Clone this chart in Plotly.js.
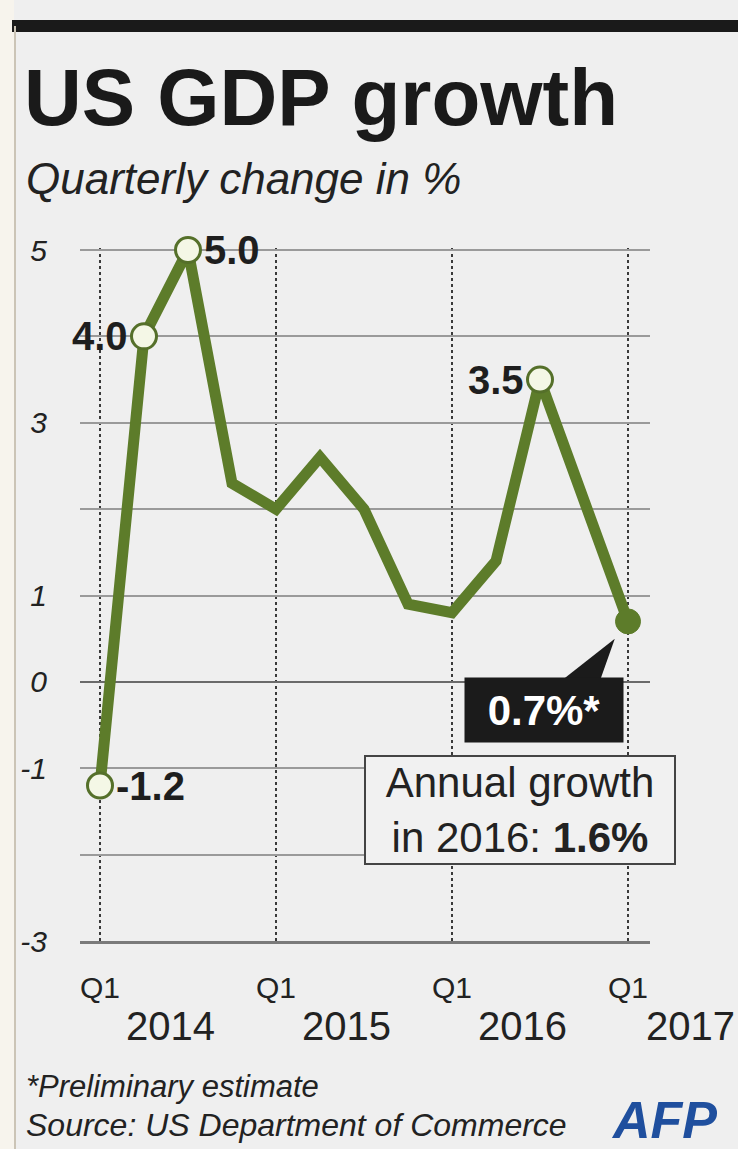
<!DOCTYPE html>
<html>
<head>
<meta charset="utf-8">
<script src="https://cdn.plot.ly/plotly-3.0.1.min.js"></script>
<style>html,body{margin:0;padding:0;background:#efefef;}#chart{width:738px;height:1149px;}</style>
</head>
<body>
<div id="chart"></div>
<script>
// ---- data ----
const quarters = ['Q1 2014','Q2 2014','Q3 2014','Q4 2014','Q1 2015','Q2 2015','Q3 2015','Q4 2015','Q1 2016','Q2 2016','Q3 2016','Q4 2016','Q1 2017'];
const growth = [-1.2, 4.0, 5.0, 2.3, 2.0, 2.6, 2.0, 0.9, 0.8, 1.4, 3.5, 2.1, 0.7];
const labelledIdx = [0, 1, 2, 10];
const labelSide = ['right', 'left', 'right', 'left'];
const xTickIdx = [0, 4, 8, 12];
const xTickText = ['Q1', 'Q1', 'Q1', 'Q1'];
const years = ['2014', '2015', '2016', '2017'];
const yTickVals = [-3, -2, -1, 0, 1, 2, 3, 4, 5];
const yTickText = ['-3', '', '-1', '0', '1', '', '3', '', '5'];
const latestLabel = '0.7%*';
const annualText = 'Annual growth<br>in 2016: <b>1.6%</b>';

// ---- geometry helpers (pixel -> paper) ----
const W = 738, H = 1149;
const L = 80, R = 650, T = 248, B = 941;
const UNIT = (B - 250) / 8;            // px per 1 % point
const YMAX = 5 + (250 - T) / UNIT;
const XMIN = -20 / 44, XMAX = 12.5;
const px = p => (p - L) / (R - L);
const py = p => 1 - (p - T) / (B - T);
const xToPaper = v => (v - XMIN) / (XMAX - XMIN);

const xIdx = quarters.map((q, i) => i);
const GREEN = '#5d7c2a';
const FONT = 'Liberation Sans, Arial, sans-serif';

const lineTrace = {
  x: xIdx, y: growth, mode: 'lines', type: 'scatter',
  line: {color: GREEN, width: 11, shape: 'linear'},
  hoverinfo: 'skip', cliponaxis: false
};
const openMarkers = {
  x: labelledIdx.map(i => xIdx[i]), y: labelledIdx.map(i => growth[i]),
  mode: 'markers', type: 'scatter', cliponaxis: false, hoverinfo: 'skip',
  marker: {size: 25, color: '#f4f7e6', line: {color: '#55702a', width: 3}}
};
const last = growth.length - 1;
const lastMarker = {
  x: [xIdx[last]], y: [growth[last]], mode: 'markers', type: 'scatter',
  cliponaxis: false, hoverinfo: 'skip',
  marker: {size: 25, color: GREEN, line: {color: GREEN, width: 1}}
};

const annotations = [];
// point labels
labelledIdx.forEach((i, k) => {
  annotations.push({
    x: xIdx[i], y: growth[i], xref: 'x', yref: 'y', showarrow: false,
    text: '<b>' + growth[i].toFixed(1) + '</b>',
    xanchor: labelSide[k] === 'right' ? 'left' : 'right',
    xshift: labelSide[k] === 'right' ? 14 : -14,
    font: {family: FONT, size: 40, color: '#1e1e1e'}
  });
});
// years (last one kept inside the right edge)
xTickIdx.forEach((xi, k) => {
  const isLast = k === xTickIdx.length - 1;
  annotations.push({
    x: isLast ? px(737) : xToPaper(xi + 1.6), y: py(1026), xref: 'paper', yref: 'paper', showarrow: false,
    text: years[k], xanchor: isLast ? 'right' : 'center', yanchor: 'middle',
    font: {family: FONT, size: 40, color: '#222'}
  });
});
// subtitle
annotations.push({
  x: px(24), y: py(178), xref: 'paper', yref: 'paper', showarrow: false,
  text: 'Quarterly change in %', xanchor: 'left', yanchor: 'middle',
  font: {family: FONT, size: 44, color: '#222', style: 'italic'}
});
// latest callout
annotations.push({
  x: xIdx[last] - 1.91, y: growth[last] - 1.03, xref: 'x', yref: 'y', showarrow: false,
  text: '<b>' + latestLabel + '</b>', bgcolor: '#1b1b1b', borderpad: 4,
  width: 150, height: 56, align: 'center', valign: 'middle',
  font: {family: FONT, size: 42, color: '#ffffff'}
});
// annual box
annotations.push({
  x: xIdx[last] - 2.45, y: growth[last] - 2.18, xref: 'x', yref: 'y', showarrow: false,
  text: annualText, bgcolor: '#f1f1f1', bordercolor: '#444', borderwidth: 2, borderpad: 3,
  width: 302, height: 100, align: 'center', valign: 'middle',
  font: {family: FONT, size: 42, color: '#222'}
});
// footer
annotations.push({
  x: px(24), y: py(1086), xref: 'paper', yref: 'paper', showarrow: false,
  text: '*Preliminary estimate', xanchor: 'left', yanchor: 'middle',
  font: {family: FONT, size: 31, color: '#222', style: 'italic'}
});
annotations.push({
  x: px(24), y: py(1125), xref: 'paper', yref: 'paper', showarrow: false,
  text: 'Source: US Department of Commerce', xanchor: 'left', yanchor: 'middle',
  font: {family: FONT, size: 32, color: '#222', style: 'italic'}
});
annotations.push({
  x: px(664), y: py(1120), xref: 'paper', yref: 'paper', showarrow: false,
  text: '<b>AFP</b>', xanchor: 'center', yanchor: 'middle',
  font: {family: FONT, size: 52, color: '#1f4f9e', style: 'italic'}
});

const lx = xIdx[last], ly = growth[last];
const shapes = [
  {type: 'rect', xref: 'paper', yref: 'paper', x0: px(12), x1: px(740), y0: py(20), y1: py(32),
   fillcolor: '#1a1a1a', line: {width: 0}, layer: 'above'},
  {type: 'rect', xref: 'paper', yref: 'paper', x0: px(-2), x1: px(14), y0: py(0), y1: py(1150),
   fillcolor: '#f7f4ed', line: {width: 0}, layer: 'below'},
  {type: 'line', xref: 'paper', yref: 'paper', x0: px(15), x1: px(15), y0: py(26), y1: py(1150),
   line: {color: '#cbc4b6', width: 2}},
  {type: 'path', xref: 'x', yref: 'y', fillcolor: '#1b1b1b', line: {width: 0},
   path: 'M ' + (lx - 0.3) + ',' + (ly - 0.2) + ' L ' + (lx - 0.62) + ',' + (ly - 0.66) +
         ' L ' + (lx - 1.45) + ',' + (ly - 0.66) + ' Z'}
];

const layout = {
  width: W, height: H,
  paper_bgcolor: '#efefef', plot_bgcolor: 'rgba(0,0,0,0)',
  margin: {l: L, r: W - R, t: T, b: H - B, pad: 0},
  showlegend: false,
  title: {text: '<b>US GDP growth</b>', xref: 'container', yref: 'container',
          x: 24 / W, xanchor: 'left', y: 1 - 97 / H, yanchor: 'middle',
          font: {family: FONT, size: 80, color: '#1a1a1a'}},
  xaxis: {
    range: [XMIN, XMAX], tickvals: xTickIdx, ticktext: xTickText,
    showgrid: true, gridcolor: '#3a3a3a', gridwidth: 1.5, griddash: 'dot',
    zeroline: false, showline: true, linecolor: '#7a7a7a', linewidth: 3,
    ticks: '', ticklabelstandoff: 18,
    tickfont: {family: FONT, size: 30, color: '#222'}, fixedrange: true
  },
  yaxis: {
    range: [-3, YMAX], tickvals: yTickVals, ticktext: yTickText,
    showgrid: true, gridcolor: '#9a9a9a', gridwidth: 2,
    zeroline: true, zerolinecolor: '#6a6a6a', zerolinewidth: 2.5,
    showline: false, ticks: '', ticklabelstandoff: 32,
    tickfont: {family: FONT, size: 30, color: '#222', style: 'italic'}, fixedrange: true
  },
  annotations: annotations,
  shapes: shapes
};

Plotly.newPlot('chart', [lineTrace, openMarkers, lastMarker], layout, {displayModeBar: false, staticPlot: true});
</script>
</body>
</html>
